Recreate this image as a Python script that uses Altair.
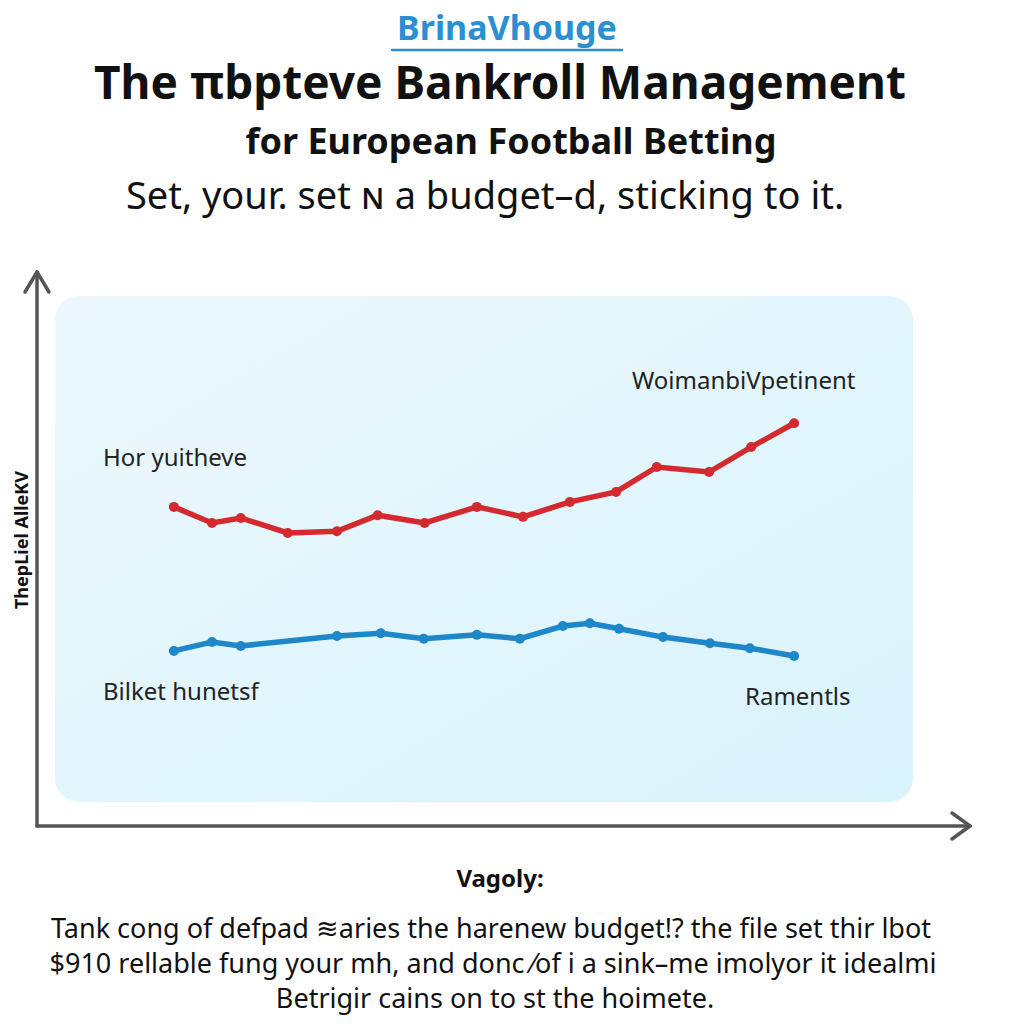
import altair as alt
import pandas as pd

# ---- data ----
red_x = [1, 1.86, 2.51, 3.57, 4.68, 5.6, 6.66, 7.84, 8.88, 9.94, 10.98, 11.9, 13.08, 14.03, 15]
red_y = [57.6, 54.7, 55.6, 52.9, 53.2, 56.1, 54.7, 57.6, 55.8, 58.5, 60.3, 64.8, 63.9, 68.4, 72.7]
blue_x = [1, 1.86, 2.51, 4.68, 5.67, 6.64, 7.84, 8.81, 9.78, 10.39, 11.05, 12.04, 13.1, 14.0, 15.0]
blue_y = [31.6, 33.2, 32.5, 34.3, 34.8, 33.8, 34.5, 33.8, 36.1, 36.6, 35.6, 34.1, 33.0, 32.1, 30.7]

brand = "BrinaVhouge"
title1 = "The πbpteve Bankroll Management"
title2 = "for European Football Betting"
subtitle = "Set, your. set ɴ a budget–d, sticking to it."
ylabel = "ThepLiel AlleKV"
lab_red_left = "Hor yuitheve"
lab_red_right = "WoimanbiVpetinent"
lab_blue_left = "Bilket hunetsf"
lab_blue_right = "Ramentls"
caption_head = "Vagoly:"
caption_lines = [
    "Tank cong of defpad ≋aries the harenew budget!? the file set thir lbot",
    "$910 rellable fung your mh, and donc ⁄of i a sink–me imolyor it idealmi",
    "Betrigir cains on to st the hoimete.",
]

W, H = 933, 554
FONT = "Noto Sans"
RED = "#d42a2f"
BLUE = "#1d87c9"
AXC = "#555555"

red_df = pd.DataFrame({"x": red_x, "y": red_y})
blue_df = pd.DataFrame({"x": blue_x, "y": blue_y})

xs = alt.Scale(domain=[-2.09, 18.97], nice=False, zero=False)
ys = alt.Scale(domain=[0, 100], nice=False, zero=False)

one = alt.Data(values=[{}])


def txt(s, x, y, size, weight="normal", color="#111111", angle=0, align="center", baseline="middle"):
    return alt.Chart(one).mark_text(
        text=s, font=FONT, fontSize=size, fontWeight=weight, color=color,
        angle=angle, align=align, baseline=baseline
    ).encode(x=alt.value(x), y=alt.value(y))


def rule(x, y, x2, y2, color=AXC, w=3.5):
    return alt.Chart(one).mark_rule(color=color, strokeWidth=w, strokeCap="round").encode(
        x=alt.value(x), y=alt.value(y), x2=alt.value(x2), y2=alt.value(y2)
    )


bg = alt.Chart(one).mark_rect(
    cornerRadius=24,
    fill=alt.Gradient(
        gradient="linear", x1=0, y1=0, x2=1, y2=1,
        stops=[alt.GradientStop(offset=0, color="#ecf8fd"),
               alt.GradientStop(offset=1, color="#d9f3fc")],
    ),
).encode(x=alt.value(18), x2=alt.value(876), y=alt.value(24), y2=alt.value(530))

axes = [
    rule(0, 0, 0, H), rule(0, H, W, H),
    rule(-12, 20, 0, 0), rule(12, 20, 0, 0),
    rule(W - 18, H - 13, W, H), rule(W - 18, H + 13, W, H),
]


def series(df, color):
    base = alt.Chart(df).encode(
        x=alt.X("x:Q", scale=xs, axis=None),
        y=alt.Y("y:Q", scale=ys, axis=None),
    )
    return base.mark_line(color=color, strokeWidth=5.5) + base.mark_circle(color=color, size=100, opacity=1)


layers = [bg] + axes + [series(red_df, RED), series(blue_df, BLUE)]

layers += [
    txt(brand, 470, -232, 34, "bold", "#2b8fd2", baseline="alphabetic"),
    rule(355, -222, 585, -222, color="#2b8fd2", w=2.5),
    txt(title1, 463, -187, 46, "bold"),
    txt(title2, 474, -129, 36, "bold"),
    txt(subtitle, 448, -74, 38, "normal"),
    txt(ylabel, -14, 268, 18, "bold", angle=270),
    txt(lab_red_left, 66, 187, 24, "normal", "#222222", align="left"),
    txt(lab_red_right, 595, 110, 24, "normal", "#222222", align="left"),
    txt(lab_blue_left, 66, 421, 24, "normal", "#222222", align="left"),
    txt(lab_blue_right, 708, 426, 24, "normal", "#222222", align="left"),
    txt(caption_head, 463, 608, 24, "bold"),
    txt(caption_lines[0], 454, 658, 27),
    txt(caption_lines[1], 456, 693, 27),
    txt(caption_lines[2], 458, 728, 27),
]

chart = alt.layer(*layers).properties(
    width=W, height=H,
    background="white",
    autosize=alt.AutoSizeParams(type="none"),
    padding={"left": 29, "top": 264, "right": 46, "bottom": 190},
).configure_view(stroke=None, strokeWidth=0)

chart.save("out.html", embed_options={"renderer": "svg", "actions": False})
